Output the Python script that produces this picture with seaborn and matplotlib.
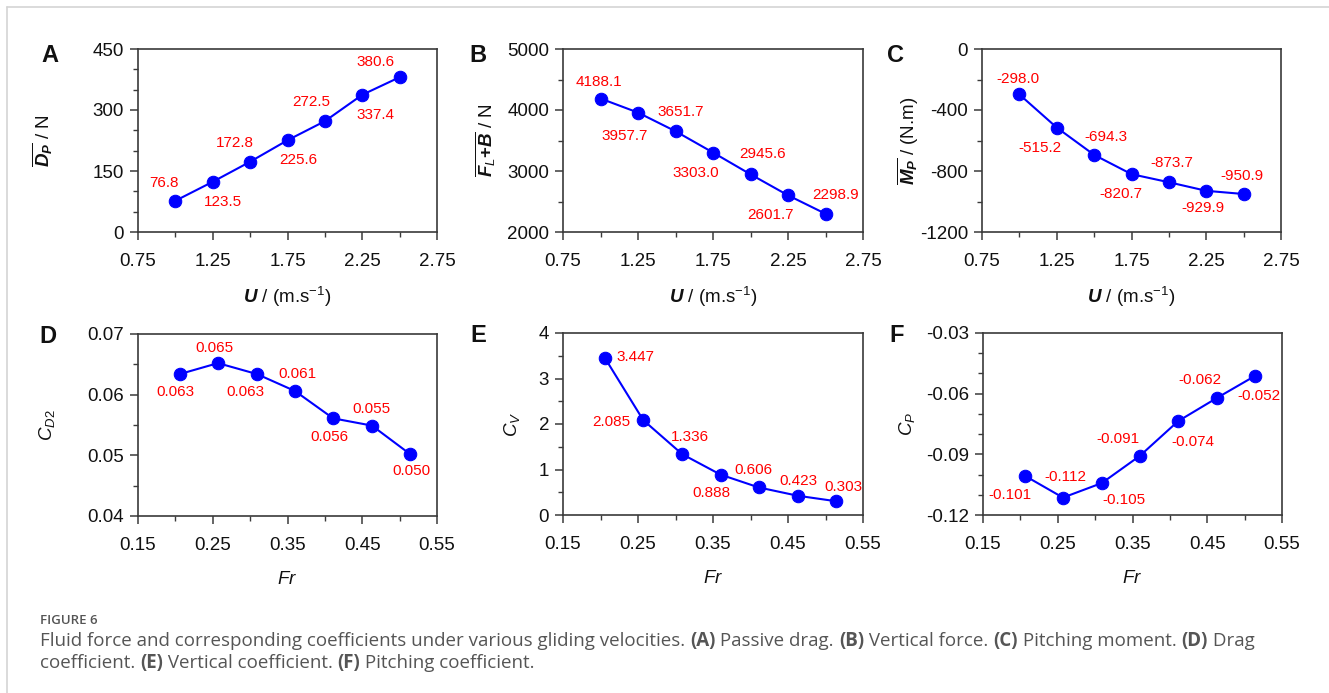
import numpy as np
import pandas as pd
import seaborn as sns
import matplotlib.pyplot as plt
from matplotlib.lines import Line2D
from matplotlib.ticker import MultipleLocator

# ------------------------------
# Data
# ------------------------------
u_vals = [1.0, 1.25, 1.5, 1.75, 2.0, 2.25, 2.5]
fr_vals = [0.206, 0.257, 0.309, 0.360, 0.411, 0.463, 0.514]

drag = [76.8, 123.5, 172.8, 225.6, 272.5, 337.4, 380.6]
vertical = [4188.1, 3957.7, 3651.7, 3303.0, 2945.6, 2601.7, 2298.9]
moment = [-298.0, -515.2, -694.3, -820.7, -873.7, -929.9, -950.9]
cd2 = [0.0634, 0.0652, 0.0634, 0.0606, 0.0561, 0.0549, 0.0502]
cv = [3.447, 2.085, 1.336, 0.888, 0.606, 0.423, 0.303]
cp = [-0.1006, -0.1114, -0.1042, -0.0907, -0.0736, -0.0621, -0.0512]

cd2_labels = ["0.063", "0.065", "0.063", "0.061", "0.056", "0.055", "0.050"]
cv_labels = ["3.447", "2.085", "1.336", "0.888", "0.606", "0.423", "0.303"]
cp_labels = ["-0.101", "-0.112", "-0.105", "-0.091", "-0.074", "-0.062", "-0.052"]

# label offsets in pixels (dx, dy) relative to each point
off_a = [(-11, 18), (10, -20), (-15, 19), (11, -20), (-14, 19), (13, -20), (-24, 15)]
off_b = [(-2, 17), (-13, -23), (5, 19), (-17, -20), (12, 20), (-18, -20), (10, 19)]
off_c = [(-1, 15), (-17, -20), (12, 18), (-11, -20), (3, 19), (-3, -17), (-2, 18)]
off_d = [(-4, -18), (-4, 15), (-11, -18), (2, 17), (-4, -19), (-1, 17), (1, -17)]
off_e = [(30, 1), (-32, -2), (8, 17), (-9, -18), (-5, 17), (1, 15), (7, 14)]
off_f = [(-15, -19), (2, 21), (22, -17), (-22, 17), (15, -21), (-17, 18), (4, -20)]

# ------------------------------
# Style
# ------------------------------
sns.set_theme(style="ticks")
plt.rcParams["font.family"] = ["Liberation Sans", "DejaVu Sans"]
plt.rcParams["mathtext.fontset"] = "custom"
plt.rcParams["mathtext.rm"] = "Liberation Sans"
plt.rcParams["mathtext.it"] = "Liberation Sans:italic"
plt.rcParams["mathtext.bf"] = "Liberation Sans:bold"
plt.rcParams["mathtext.bfit"] = "Liberation Sans:bold:italic"

BLUE = "#0000ff"
RED = "#ff0000"
SPINE = "#3a3a3a"

fig = plt.figure(figsize=(13.29, 6.93), dpi=100)
W, H = 1329, 693


def px_axes(x0, y0, x1, y1):
    return fig.add_axes([x0 / W, 1 - y1 / H, (x1 - x0) / W, (y1 - y0) / H])


def panel(ax, x, y, ylabels, offsets, xlim, xmaj, ylim, ymaj, ymin, ylab, xlab,
          ylab_x, xlab_y, letter, letter_xy, yfmt):
    df = pd.DataFrame({"x": x, "y": y})
    sns.lineplot(data=df, x="x", y="y", ax=ax, color=BLUE, linewidth=1.5,
                 marker="o", markersize=9, markeredgecolor=BLUE)
    for xi, yi, lab, (dx, dy) in zip(x, y, ylabels, offsets):
        ax.annotate(lab, (xi, yi), xytext=(dx, dy), textcoords="offset pixels",
                    ha="center", va="center", color=RED, fontsize=11)
    ax.set_xlim(*xlim)
    ax.set_ylim(*ylim)
    ax.set_xticks(np.arange(xlim[0], xlim[1] + 1e-9, xmaj))
    ax.xaxis.set_minor_locator(MultipleLocator(xmaj / 2))
    ax.set_yticks(np.arange(ylim[0], ylim[1] + 1e-9, ymaj))
    ax.yaxis.set_minor_locator(MultipleLocator(ymin))
    ax.xaxis.set_major_formatter(plt.FuncFormatter(lambda v, p: f"{v:.2f}"))
    ax.yaxis.set_major_formatter(plt.FuncFormatter(lambda v, p: yfmt.format(v)))
    ax.tick_params(which="major", direction="out", length=6, width=1.1,
                   color=SPINE, labelsize=13.5, labelcolor="#111111")
    ax.tick_params(axis="x", which="major", pad=9)
    ax.tick_params(axis="y", which="major", pad=4)
    ax.tick_params(which="minor", direction="out", length=3.5, width=1.0, color=SPINE)
    for s in ax.spines.values():
        s.set_visible(True)
        s.set_color(SPINE)
        s.set_linewidth(1.2)
    ax.set_ylabel(ylab, fontsize=13.5, color="#111111")
    ax.set_xlabel(xlab, fontsize=13.5, color="#111111")
    ax.yaxis.set_label_coords(ylab_x, 0.5)
    ax.xaxis.set_label_coords(0.5, xlab_y)
    fig.text(letter_xy[0] / W, 1 - letter_xy[1] / H, letter, fontsize=17,
             fontweight="bold", ha="center", va="center", color="#111111")


u_lab = r"$\mathbfit{U}$ / (m.s$^{-1}$)"
fr_lab = r"$\mathit{Fr}$"

ax_a = px_axes(138, 49, 437, 232)
panel(ax_a, u_vals, drag, [f"{v:.1f}" for v in drag], off_a, (0.75, 2.75), 0.5,
      (0, 450), 150, 50, r"$\overline{\mathbfit{D}_{\mathbfit{P}}}$ / N", u_lab,
      -0.28, -0.29, "A", (50, 55), "{:.0f}")

ax_b = px_axes(563, 49, 863, 232)
panel(ax_b, u_vals, vertical, [f"{v:.1f}" for v in vertical], off_b, (0.75, 2.75), 0.5,
      (2000, 5000), 1000, 500,
      r"$\overline{\mathbfit{F}_{\mathit{L}}\mathbf{+}\mathbfit{B}}$ / N", u_lab,
      -0.22, -0.29, "B", (478, 56), "{:.0f}")

ax_c = px_axes(982, 49, 1281, 232)
panel(ax_c, u_vals, moment, [f"{v:.1f}" for v in moment], off_c, (0.75, 2.75), 0.5,
      (-1200, 0), 400, 200, r"$\overline{\mathbfit{M}_{\mathbfit{P}}}$ / (N.m)", u_lab,
      -0.205, -0.29, "C", (896, 55), "{:.0f}")

ax_d = px_axes(138, 334, 437, 516)
panel(ax_d, fr_vals, cd2, cd2_labels, off_d, (0.15, 0.55), 0.1,
      (0.04, 0.07), 0.01, 0.005, r"$\mathit{C}_{\mathit{D2}}$", fr_lab,
      -0.27, -0.30, "D", (48, 337), "{:.2f}")

ax_e = px_axes(563, 333, 863, 515)
panel(ax_e, fr_vals, cv, cv_labels, off_e, (0.15, 0.55), 0.1,
      (0, 4), 1, 0.5, r"$\mathit{C}_{\mathit{V}}$", fr_lab,
      -0.135, -0.30, "E", (478, 336), "{:.0f}")

ax_f = px_axes(983, 333, 1282, 515)
panel(ax_f, fr_vals, cp, cp_labels, off_f, (0.15, 0.55), 0.1,
      (-0.12, -0.03), 0.03, 0.01, r"$\mathit{C}_{\mathit{P}}$", fr_lab,
      -0.22, -0.30, "F", (897, 336), "{:.2f}")

# frame lines of the page
fig.add_artist(Line2D([7 / W, 1], [1 - 7 / H, 1 - 7 / H], color="#d4d4d4", lw=1.2))
fig.add_artist(Line2D([7 / W, 7 / W], [0, 1 - 7 / H], color="#d4d4d4", lw=1.2))

# ------------------------------
# Caption with bold panel references
# ------------------------------
CAP = dict(family=["Open Sans", "DejaVu Sans"], color="#555555", va="center")
fig.text(40 / W, 1 - 620 / H, "FIGURE 6", fontsize=9.5, fontweight="semibold", **CAP)

renderer = fig.canvas.get_renderer()


def rich_line(x, y, parts, size=13.5):
    for txt, bold in parts:
        t = fig.text(x / W, 1 - y / H, txt, fontsize=size,
                     fontweight="bold" if bold else "normal", **CAP)
        x += t.get_window_extent(renderer).width


rich_line(40, 641, [
    ("Fluid force and corresponding coefficients under various gliding velocities. ", False),
    ("(A)", True), (" Passive drag. ", False), ("(B)", True), (" Vertical force. ", False),
    ("(C)", True), (" Pitching moment. ", False), ("(D)", True), (" Drag", False)])
rich_line(40, 663, [
    ("coefficient. ", False), ("(E)", True), (" Vertical coefficient. ", False),
    ("(F)", True), (" Pitching coefficient.", False)])

fig.savefig("out.png", dpi=100)
